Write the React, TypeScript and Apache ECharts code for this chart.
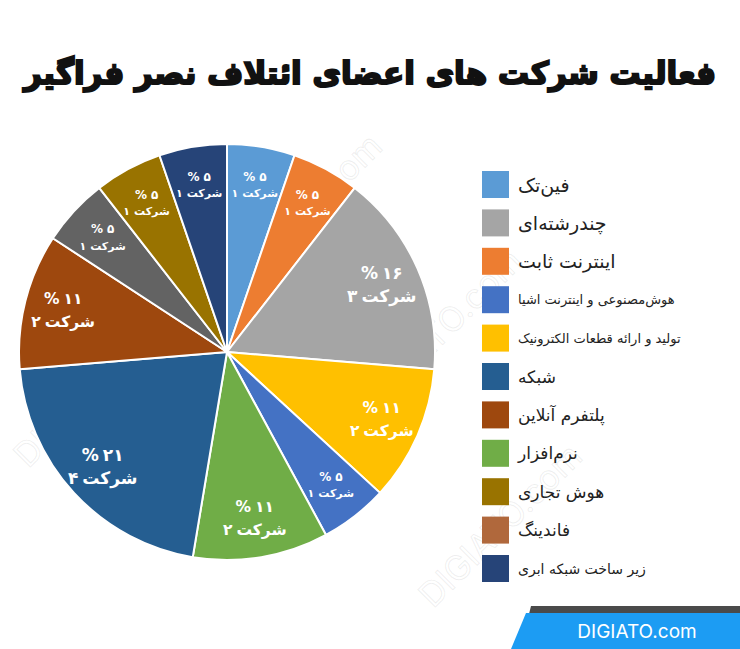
import React, { useEffect, useRef } from "react";
import * as echarts from "echarts";

const titleText = "فعالیت شرکت های اعضای ائتلاف نصر فراگیر";
const categories = [
  "فین‌تک",
  "اینترنت ثابت",
  "چندرشته‌ای",
  "تولید و ارائه قطعات الکترونیک",
  "هوش‌مصنوعی و اینترنت اشیا",
  "نرم‌افزار",
  "شبکه",
  "پلتفرم آنلاین",
  "فاندینگ",
  "هوش تجاری",
  "زیر ساخت شبکه ابری",
];
const companyCounts = [1, 1, 3, 2, 1, 2, 4, 2, 1, 1, 1];
const sliceColors = [
  "#5B9BD5",
  "#ED7D31",
  "#A5A5A5",
  "#FFC000",
  "#4472C4",
  "#70AD47",
  "#255E91",
  "#9E480E",
  "#636363",
  "#997300",
  "#264478",
];
const legendOrder = [
  "فین‌تک",
  "چندرشته‌ای",
  "اینترنت ثابت",
  "هوش‌مصنوعی و اینترنت اشیا",
  "تولید و ارائه قطعات الکترونیک",
  "شبکه",
  "پلتفرم آنلاین",
  "نرم‌افزار",
  "هوش تجاری",
  "فاندینگ",
  "زیر ساخت شبکه ابری",
];
const legendColors = [
  "#5B9BD5",
  "#A5A5A5",
  "#ED7D31",
  "#4472C4",
  "#FFC000",
  "#255E91",
  "#9E480E",
  "#70AD47",
  "#997300",
  "#B0683C",
  "#264478",
];
const legendFontSizes = [19, 19, 19, 13, 13, 17, 17, 17, 17, 17, 14];
const unitWord = "شرکت";
const watermarkText = "DIGIATO.com";
const watermarkSpots = [
  [95, 385],
  [190, 450],
  [440, 330],
  [500, 525],
  [300, 215],
];

const faDigits = (s: string) =>
  s.replace(/\d/g, (d) => "۰۱۲۳۴۵۶۷۸۹"[Number(d)]);

export default function App() {
  const ref = useRef<HTMLDivElement>(null);
  useEffect(() => {
    document.body.style.margin = "0";
    if (!ref.current) return;
    const chart = echarts.init(ref.current, null, { renderer: "svg" });
    const font = "DejaVu Sans";
    const data = categories.map((name, i) => ({
      name,
      value: companyCounts[i],
      itemStyle: { color: sliceColors[i] },
    }));
    const labelData = categories.map((name, i) => {
      const big = companyCounts[i] > 1;
      const fs = companyCounts[i] > 2 ? 17 : big ? 15.5 : 12;
      const fs2 = big ? fs : 11;
      const lh = big ? 23 : 17;
      const base = { fontWeight: "bold", color: "#fff", fontFamily: font, lineHeight: lh };
      return {
        name,
        value: companyCounts[i],
        label: {
          rich: {
            p: { ...base, fontSize: fs, padding: [0, 4, 0, 0] },
            a: { ...base, fontSize: fs },
            n: { ...base, fontSize: fs2, padding: [0, 4, 0, 0] },
            w: { ...base, fontSize: fs2 },
          },
        },
      };
    });
    const option: any = {
      animation: false,
      backgroundColor: "#ffffff",
      title: {
        text: titleText,
        left: "center",
        top: 52,
        textStyle: {
          fontFamily: font,
          fontSize: 31,
          fontWeight: 900,
          color: "#111",
          textBorderColor: "#111",
          textBorderWidth: 2,
          textShadowColor: "#3D8FE0",
          textShadowOffsetX: 2,
          textShadowOffsetY: 2,
          textShadowBlur: 0,
        },
      },
      legend: {
        orient: "vertical",
        left: 477,
        top: 166,
        align: "left",
        icon: "rect",
        itemWidth: 27,
        itemHeight: 27,
        itemGap: 11.4,
        selectedMode: false,
        textStyle: { fontFamily: font, color: "#222", padding: [0, 0, 0, 4] },
        data: legendOrder.map((name, i) => ({
          name,
          itemStyle: { color: legendColors[i], borderWidth: 0 },
          textStyle: { fontSize: legendFontSizes[i], fontFamily: font, color: "#222" },
        })),
      },
      graphic: [
        ...watermarkSpots.map(([x, y]) => ({
          type: "text",
          x,
          y,
          rotation: Math.PI / 4,
          silent: true,
          z: -1,
          style: {
            text: watermarkText,
            fill: "rgba(0,0,0,0)",
            stroke: "rgba(120,120,120,0.13)",
            lineWidth: 1,
            fontSize: 34,
            fontFamily: "Inter",
            align: "center",
            verticalAlign: "middle",
          },
        })),
        {
          type: "polygon",
          shape: { points: [[531, 606], [740, 606], [740, 614], [529, 614]] },
          style: { fill: "#4a4a4a" },
          z: 10,
        },
        {
          type: "polygon",
          shape: { points: [[526, 613], [740, 613], [740, 649], [511, 649]] },
          style: { fill: "#1C9CF3" },
          z: 10,
        },
        {
          type: "text",
          x: 637,
          y: 631,
          z: 11,
          style: {
            text: watermarkText,
            fill: "#fff",
            fontSize: 19,
            fontFamily: "Inter",
            align: "center",
            verticalAlign: "middle",
          },
        },
      ],
      series: [
        {
          type: "pie",
          center: [227, 352],
          radius: [0, 208],
          startAngle: 90,
          clockwise: true,
          label: { show: false },
          labelLine: { show: false },
          itemStyle: { borderColor: "#fff", borderWidth: 2 },
          emphasis: { disabled: true },
          data,
        },
        {
          type: "pie",
          center: [227, 352],
          radius: [127, 205],
          startAngle: 90,
          clockwise: true,
          silent: true,
          itemStyle: { color: "rgba(0,0,0,0)", borderWidth: 0 },
          emphasis: { disabled: true },
          labelLine: { show: false },
          label: {
            show: true,
            position: "inside",
            formatter: (p: any) =>
              `{p|%}{a|${faDigits(String(Math.round(p.percent)))}}\n{n|${faDigits(String(p.value))}}{w|${unitWord}}`,
          },
          data: labelData,
        },
      ],
    };
    chart.setOption(option);
    return () => chart.dispose();
  }, []);
  return <div ref={ref} style={{ width: 740, height: 649 }} />;
}
